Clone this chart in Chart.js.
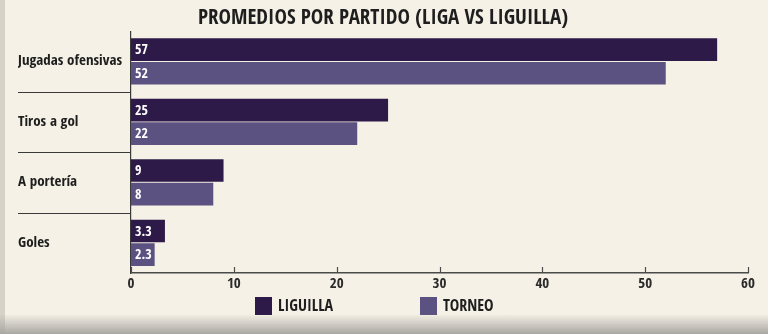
<!DOCTYPE html>
<html>
<head>
<meta charset="utf-8">
<script src="https://cdn.jsdelivr.net/npm/chart.js@4"></script>
<style>
  html, body { margin:0; padding:0; background:#f5f1e6; }
  #wrap { position:relative; width:768px; height:334px; overflow:hidden; }
  #wrap:after { content:''; position:absolute; left:0; right:0; bottom:0; height:20px;
    background:linear-gradient(rgba(245,241,230,0), #a9a7a2); }
  #wrap:before { content:''; position:absolute; left:0; top:0; bottom:0; width:5px; background:#d6d2c8; }
</style>
</head>
<body>
<div id="wrap"><canvas id="grafico" width="768" height="334"></canvas></div>
<script>
let categorias=['Jugadas ofensivas','Tiros a gol','A portería','Goles']
let liguilla=[57, 25, 9, 3.3]
let torneo=[52, 22, 8, 2.3]
let ticksX=[0,10,20,30,40,50,60]
let fuente='"Open Sans Condensed", "Roboto Condensed", sans-serif'

// rotulos blancos dentro de las barras, separadores, marcas del eje y leyenda
const extras={
    id:'extras',
    afterDatasetsDraw(chart){
        const c=chart.ctx
        const area=chart.chartArea
        const y=chart.scales.y
        const x=chart.scales.x
        c.save()
        c.font='bold 14px '+fuente
        c.fillStyle='#ffffff'
        c.textBaseline='middle'
        chart.data.datasets.forEach((ds,i)=>{
            chart.getDatasetMeta(i).data.forEach((bar,j)=>{
                c.fillText(String(ds.data[j]), bar.base+4, bar.y+1)
            })
        })
        c.strokeStyle='#3a3a3a'
        c.lineWidth=1.2
        for(let i=0;i<categorias.length-1;i++){
            let py=Math.round(y.getPixelForValue(i+0.5))+0.5
            c.beginPath()
            c.moveTo(18,py)
            c.lineTo(area.left,py)
            c.stroke()
        }
        c.strokeStyle='#4a4a48'
        ticksX.forEach(v=>{
            let px=Math.round(x.getPixelForValue(v))+0.5
            c.beginPath()
            c.moveTo(px,area.bottom)
            c.lineTo(px,area.bottom-6)
            c.stroke()
        })
        // leyenda
        c.font='bold 16px '+fuente
        c.textBaseline='middle'
        let lx=255
        let ly=306
        chart.data.datasets.forEach((ds)=>{
            c.fillStyle=ds.backgroundColor
            c.fillRect(lx,ly-9,17,18)
            c.fillStyle='#1e1e1e'
            c.fillText(ds.label,lx+23,ly+1)
            lx+=165
        })
        c.restore()
    }
}

new Chart(document.getElementById('grafico'),{
    type:'bar',
    data:{
        labels:categorias,
        datasets:[{
            label:'LIGUILLA',
            data:liguilla,
            backgroundColor:'#2e1a48',
            borderWidth:0,
            categoryPercentage:0.78,
            barPercentage:0.96
        },{
            label:'TORNEO',
            data:torneo,
            backgroundColor:'#5c5282',
            borderWidth:0,
            categoryPercentage:0.78,
            barPercentage:0.96
        }]
    },
    options:{
        indexAxis:'y',
        responsive:false,
        animation:false,
        layout:{padding:{left:18,right:20,top:3,bottom:41}},
        plugins:{
            title:{
                display:true,
                text:'PROMEDIOS POR PARTIDO (LIGA VS LIGUILLA)',
                color:'#1e1e1e',
                font:{family:fuente,size:21,weight:'bold'},
                padding:{top:3,bottom:0}
            },
            legend:{display:false},
            tooltip:{enabled:false}
        },
        scales:{
            x:{
                min:0,
                max:60,
                afterBuildTicks:(s)=>{ s.ticks=ticksX.map(v=>({value:v})) },
                afterFit:(s)=>{ s.height=20 },
                grid:{display:false},
                border:{display:true,color:'#4a4a48',width:1.5},
                ticks:{color:'#2a2a2a',padding:-6,font:{family:fuente,size:15,weight:'bold'}}
            },
            y:{
                grid:{display:false},
                border:{display:true,color:'#3a3a3a',width:1.2},
                afterFit:(s)=>{ s.width=113 },
                ticks:{
                    crossAlign:'far',
                    color:'#1e1e1e',
                    font:{family:fuente,size:15,weight:'bold'}
                }
            }
        }
    },
    plugins:[extras]
})
</script>
</body>
</html>
